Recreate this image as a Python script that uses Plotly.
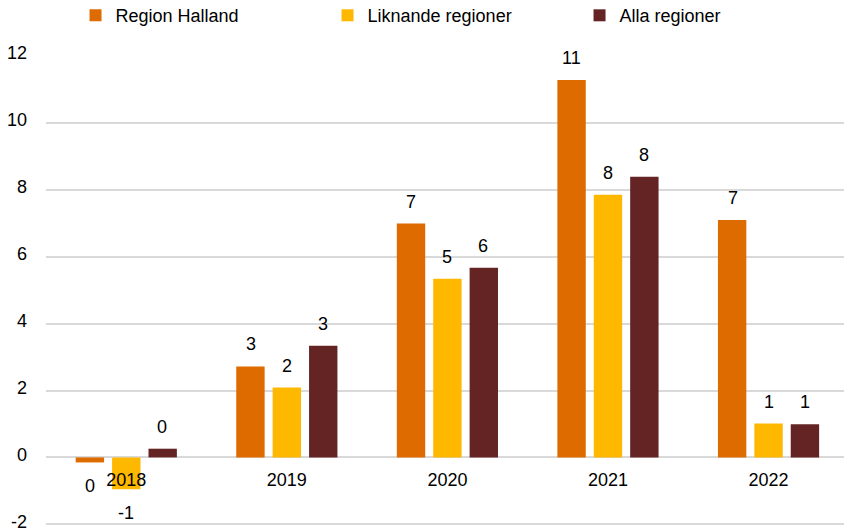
import plotly.graph_objects as go

years = ["2018", "2019", "2020", "2021", "2022"]
series_names = ["Region Halland", "Liknande regioner", "Alla regioner"]
halland = [-0.15, 2.72, 6.99, 11.28, 7.10]
liknande = [-0.95, 2.09, 5.34, 7.85, 1.01]
alla = [0.26, 3.34, 5.67, 8.39, 0.99]
colors = ["#DE6B00", "#FFB800", "#632423"]
y_ticks = [-2, 0, 2, 4, 6, 8, 10, 12]
y_tick_labels = [str(v) for v in y_ticks]

FONT = "Liberation Sans, Arial, sans-serif"
series_values = [halland, liknande, alla]
x_idx = list(range(len(years)))

Y_LO, Y_HI = -2.2, 12

fig = go.Figure()
for name, vals, col in zip(series_names, series_values, colors):
    fig.add_trace(go.Bar(
        name=name, x=x_idx, y=vals,
        marker=dict(color=col, line=dict(width=0)),
    ))

# data labels (rounded integers) above / below the bars
offsets = [-36, 0, 36]
for vals, dx in zip(series_values, offsets):
    for xi, v in zip(x_idx, vals):
        lbl = str(int(round(v)))
        pos = v >= 0
        fig.add_annotation(x=xi, y=v, xref="x", yref="y", text=lbl,
                           showarrow=False, xshift=dx,
                           yanchor="bottom" if pos else "top",
                           yshift=10 if pos else -12,
                           font=dict(family=FONT, size=18, color="#000"))

fig.update_layout(
    width=844, height=531,
    margin=dict(l=46, r=0, t=56, b=0, autoexpand=False),
    paper_bgcolor="white", plot_bgcolor="white",
    barmode="group", bargap=0.32, bargroupgap=0.22,
    font=dict(family=FONT, size=18, color="#000"),
    showlegend=True,
    legend=dict(orientation="h", x=0.037, xanchor="left",
                y=1.124, yanchor="top", yref="paper",
                entrywidth=207, entrywidthmode="pixels",
                font=dict(family=FONT, size=18, color="#000"),
                traceorder="normal"),
)
fig.update_yaxes(range=[Y_LO, Y_HI], tickvals=y_ticks, ticktext=y_tick_labels,
                 showgrid=True,
                 gridcolor="#D9D9D9", gridwidth=1.5, zeroline=True,
                 zerolinecolor="#D9D9D9", zerolinewidth=1.5,
                 ticklabelstandoff=18, ticklabeloverflow="allow",
                 ticklabelshift=-3,
                 showline=False, ticks="",
                 automargin=False,
                 tickfont=dict(family=FONT, size=18, color="#000"))
fig.update_xaxes(range=[-0.5, 4.47], anchor="free",
                 position=-Y_LO / (Y_HI - Y_LO),
                 tickvals=x_idx, ticktext=years,
                 showline=False, ticks="", showgrid=False,
                 ticklabelstandoff=10, automargin=False,
                 tickfont=dict(family=FONT, size=18, color="#000"))

fig.write_html("out.html",
               config={"displayModeBar": False},
               post_script="document.body.style.margin='0px';document.body.style.overflow='hidden';")
